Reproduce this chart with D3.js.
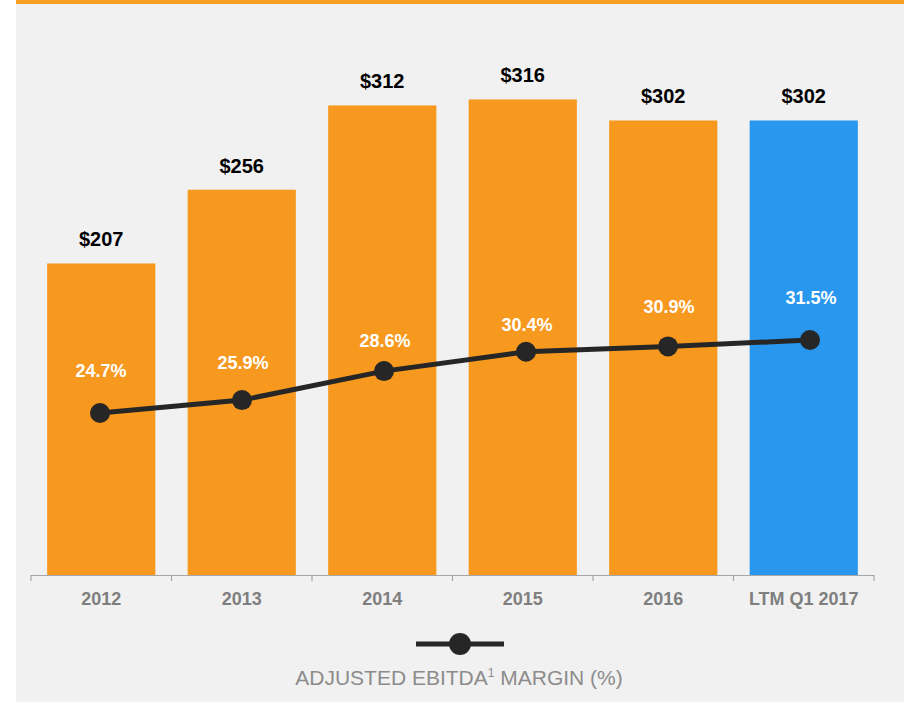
<!DOCTYPE html>
<html>
<head>
<meta charset="utf-8">
<script src="https://cdn.jsdelivr.net/npm/d3@7"></script>
<style>
  html, body { margin: 0; padding: 0; background: #ffffff; }
  svg { display: block; }
  text { font-family: "Liberation Sans", Arial, sans-serif; }
</style>
</head>
<body>
<svg id="chart" width="904" height="702"></svg>
<script>
// ---- data ----
const categories = ["2012", "2013", "2014", "2015", "2016", "LTM Q1 2017"];
const ebitdaValues = [207, 256, 312, 316, 302, 302];
const marginValues = [24.7, 25.9, 28.6, 30.4, 30.9, 31.5];
const legendLabel = "ADJUSTED EBITDA";
const legendSup = "1";
const legendRest = " MARGIN (%)";

// ---- layout (not data) ----
const pctLabelLift = [36, 31.5, 24.5, 21, 33, 35.5];
const W = 904, H = 702;
const axisY = 575, axisX0 = 31, axisX1 = 874;

const svg = d3.select("#chart");

// background
svg.append("rect").attr("x", 16).attr("y", 0).attr("width", W - 16).attr("height", H).attr("fill", "#f1f1f1");
svg.append("rect").attr("x", 16).attr("y", 0).attr("width", W - 16).attr("height", 4).attr("fill", "#f7a021");

const x = d3.scaleBand().domain(categories).range([axisX0, axisX1]).paddingInner(0.23).paddingOuter(0.115);
const xLine = d3.scalePoint().domain(categories).range([100, 810]);
const yBar = d3.scaleLinear().domain([0, 350]).range([axisY, axisY - 350 * 1.505]);
const yLine = d3.scaleLinear().domain([20, 35]).range([413 + 4.7 * 10.74, 413 - 10.3 * 10.74]);

// bars
svg.append("g").selectAll("rect").data(categories).join("rect")
  .attr("x", d => x(d))
  .attr("width", x.bandwidth())
  .attr("y", (d, i) => yBar(ebitdaValues[i]))
  .attr("height", (d, i) => axisY - yBar(ebitdaValues[i]))
  .attr("fill", (d, i) => i === categories.length - 1 ? "#2997ee" : "#f7981f");

// value labels
svg.append("g").selectAll("text").data(categories).join("text")
  .attr("x", d => x(d) + x.bandwidth() / 2)
  .attr("y", (d, i) => yBar(ebitdaValues[i]) - 17)
  .attr("text-anchor", "middle")
  .attr("font-size", 20).attr("font-weight", "bold").attr("fill", "#000")
  .text((d, i) => "$" + ebitdaValues[i]);

// x axis
const xAxisScale = d3.scalePoint().domain(d3.range(categories.length + 1)).range([axisX0, axisX1]);
const ax = svg.append("g").attr("transform", `translate(0,${axisY})`);
ax.append("line").attr("x1", axisX0).attr("x2", axisX1).attr("y1", 0.5).attr("y2", 0.5)
  .attr("stroke", "#a6a6a6").attr("stroke-width", 1.2);
ax.selectAll("line.tick").data(xAxisScale.domain()).join("line").attr("class", "tick")
  .attr("x1", d => xAxisScale(d)).attr("x2", d => xAxisScale(d))
  .attr("y1", 0).attr("y2", 6).attr("stroke", "#a6a6a6").attr("stroke-width", 1.2);
ax.selectAll("text").data(categories).join("text")
  .attr("x", d => x(d) + x.bandwidth() / 2)
  .attr("y", 30)
  .attr("text-anchor", "middle")
  .attr("font-size", 18).attr("font-weight", "bold").attr("fill", "#7f7f7f")
  .text(d => d);

// margin line
const line = d3.line().x(d => xLine(d)).y((d, i) => yLine(marginValues[i]));
svg.append("path").datum(categories).attr("d", line)
  .attr("fill", "none").attr("stroke", "#262626").attr("stroke-width", 5);
svg.append("g").selectAll("circle").data(categories).join("circle")
  .attr("cx", d => xLine(d)).attr("cy", (d, i) => yLine(marginValues[i]))
  .attr("r", 10).attr("fill", "#262626");

// margin labels
svg.append("g").selectAll("text").data(categories).join("text")
  .attr("x", d => xLine(d) + 1)
  .attr("y", (d, i) => yLine(marginValues[i]) - pctLabelLift[i])
  .attr("text-anchor", "middle")
  .attr("font-size", 18).attr("font-weight", "bold").attr("fill", "#ffffff")
  .text((d, i) => marginValues[i].toFixed(1) + "%");

// legend
const lg = svg.append("g");
lg.append("line").attr("x1", 416).attr("x2", 504).attr("y1", 644).attr("y2", 644)
  .attr("stroke", "#262626").attr("stroke-width", 5);
lg.append("circle").attr("cx", 460).attr("cy", 644).attr("r", 11).attr("fill", "#262626");
const lt = lg.append("text").attr("x", 459).attr("y", 685).attr("text-anchor", "middle")
  .attr("font-size", 21).attr("fill", "#8c8c8c");
lt.append("tspan").text(legendLabel);
lt.append("tspan").attr("font-size", 12).attr("dy", -8).text(legendSup);
lt.append("tspan").attr("dy", 8).text(legendRest);
</script>
</body>
</html>
